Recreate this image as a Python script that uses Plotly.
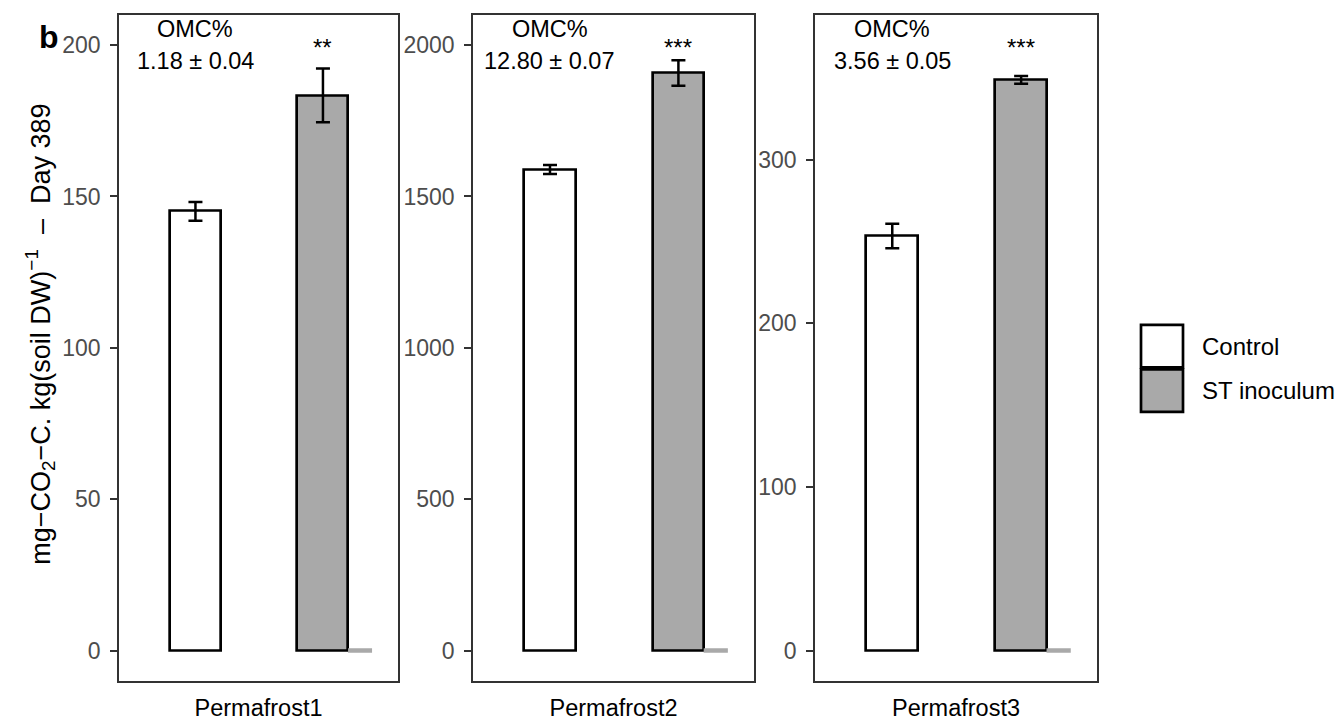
import plotly.graph_objects as go

# Soil incubation: cumulative CO2-C release at day 389
sites = ["Permafrost1", "Permafrost2", "Permafrost3"]
control_mean = [145.1, 1589, 253.4]
control_se = [3.1, 15, 7.5]
inoculum_mean = [183.4, 1908, 348.8]
inoculum_se = [8.9, 42, 2.4]
zero_group = [0, 0, 0]
omc_text = ["1.18 ± 0.04", "12.80 ± 0.07", "3.56 ± 0.05"]
signif = ["**", "***", "***"]
y_ranges = [[-10, 210], [-100, 2100], [-18.5, 388.5]]
y_ticks = [[0, 50, 100, 150, 200], [0, 500, 1000, 1500, 2000], [0, 100, 200, 300]]

W, H = 1336, 721
FONT = "Liberation Sans, Arial, sans-serif"
GRAY_FILL = "#A9A9A9"

# panel boxes in pixels (left, right)
panel_px = [(119, 398), (473, 754), (815, 1097)]
top_px, bottom_px = 15, 687.5

ctrl_x, st_x, bar_w = 0.274, 0.731, 0.183
dash_x = (0.821, 0.907)

fig = go.Figure()
layout = dict(
    width=W, height=H,
    margin=dict(l=0, r=0, t=0, b=0),
    paper_bgcolor="white", plot_bgcolor="white",
    showlegend=False,
    bargap=0,
)

annotations = []
shapes = []

for i, site in enumerate(sites):
    n = "" if i == 0 else str(i + 1)
    xa, ya = "x" + n, "y" + n
    l, r = panel_px[i]
    layout["xaxis" + n] = dict(
        domain=[l / W, r / W], range=[0, 1], fixedrange=True,
        tickvals=[0.5], ticktext=[site], ticks="",
        tickfont=dict(family=FONT, size=23.5, color="black"),
        showline=True, mirror=True, linecolor="#333333", linewidth=1.5,
        showgrid=False, zeroline=False, ticklabelstandoff=5,
        anchor=ya,
    )
    layout["yaxis" + n] = dict(
        domain=[1 - bottom_px / H, 1 - top_px / H], range=y_ranges[i],
        tickvals=y_ticks[i], ticks="outside", ticklen=7, tickwidth=1.5,
        tickcolor="#333333",
        tickfont=dict(family=FONT, size=23, color="#4D4D4D"),
        showline=True, mirror=True, linecolor="#333333", linewidth=1.5,
        showgrid=False, zeroline=False, ticklabelstandoff=5,
        anchor=xa,
    )

    fig.add_trace(go.Bar(
        x=[ctrl_x], y=[control_mean[i]], width=[bar_w],
        marker=dict(color="white", line=dict(color="black", width=2.7)),
        error_y=dict(type="data", array=[control_se[i]], color="black",
                     thickness=2.5, width=7),
        xaxis=xa, yaxis=ya, name="Control",
    ))
    fig.add_trace(go.Bar(
        x=[st_x], y=[inoculum_mean[i]], width=[bar_w],
        marker=dict(color=GRAY_FILL, line=dict(color="black", width=2.7)),
        error_y=dict(type="data", array=[inoculum_se[i]], color="black",
                     thickness=2.5, width=7),
        xaxis=xa, yaxis=ya, name="ST inoculum",
    ))
    fig.add_trace(go.Scatter(
        x=list(dash_x), y=[zero_group[i], zero_group[i]], mode="lines",
        line=dict(color=GRAY_FILL, width=4.5), xaxis=xa, yaxis=ya,
        hoverinfo="skip",
    ))

    annotations += [
        dict(text="OMC%", x=ctrl_x, xref=xa, y=1 - 29 / H, yref="paper",
             showarrow=False, font=dict(family=FONT, size=23.5, color="black"),
             xanchor="center", yanchor="middle"),
        dict(text=omc_text[i], x=ctrl_x, xref=xa, y=1 - 62 / H, yref="paper",
             showarrow=False, font=dict(family=FONT, size=23.5, color="black"),
             xanchor="center", yanchor="middle"),
        dict(text=signif[i], x=st_x, xref=xa, y=1 - 48 / H, yref="paper",
             showarrow=False, font=dict(family=FONT, size=24, color="black"),
             xanchor="center", yanchor="middle"),
    ]

# y-axis title
annotations.append(dict(
    text="mg\u2212CO<sub>2</sub>\u2212C. kg(soil DW)<sup>\u22121</sup>  \u2013  Day 389",
    x=40 / W, y=1 - 338 / H, xref="paper", yref="paper", textangle=-90,
    showarrow=False, font=dict(family=FONT, size=27, color="black"),
    xanchor="center", yanchor="middle",
))
# panel tag
annotations.append(dict(
    text="<b>b</b>", x=49 / W, y=1 - 37 / H, xref="paper", yref="paper",
    showarrow=False, font=dict(family=FONT, size=32, color="black"),
    xanchor="center", yanchor="middle",
))

# legend keys
legend_items = [("Control", "white", 328, 371), ("ST inoculum", GRAY_FILL, 373, 416)]
for label, fill, y0, y1 in legend_items:
    shapes.append(dict(type="rect", xref="paper", yref="paper",
                       x0=1141 / W, x1=1183 / W, y0=1 - y1 / H, y1=1 - y0 / H,
                       fillcolor=fill, line=dict(color="black", width=2.7)))
    annotations.append(dict(text=label, x=1200 / W, y=1 - (y0 + y1) / 2 / H,
                            xref="paper", yref="paper", showarrow=False,
                            xanchor="left", yanchor="middle",
                            font=dict(family=FONT, size=24, color="black")))

layout["annotations"] = annotations
layout["shapes"] = shapes
fig.update_layout(**layout)
fig.write_html("out.html")
